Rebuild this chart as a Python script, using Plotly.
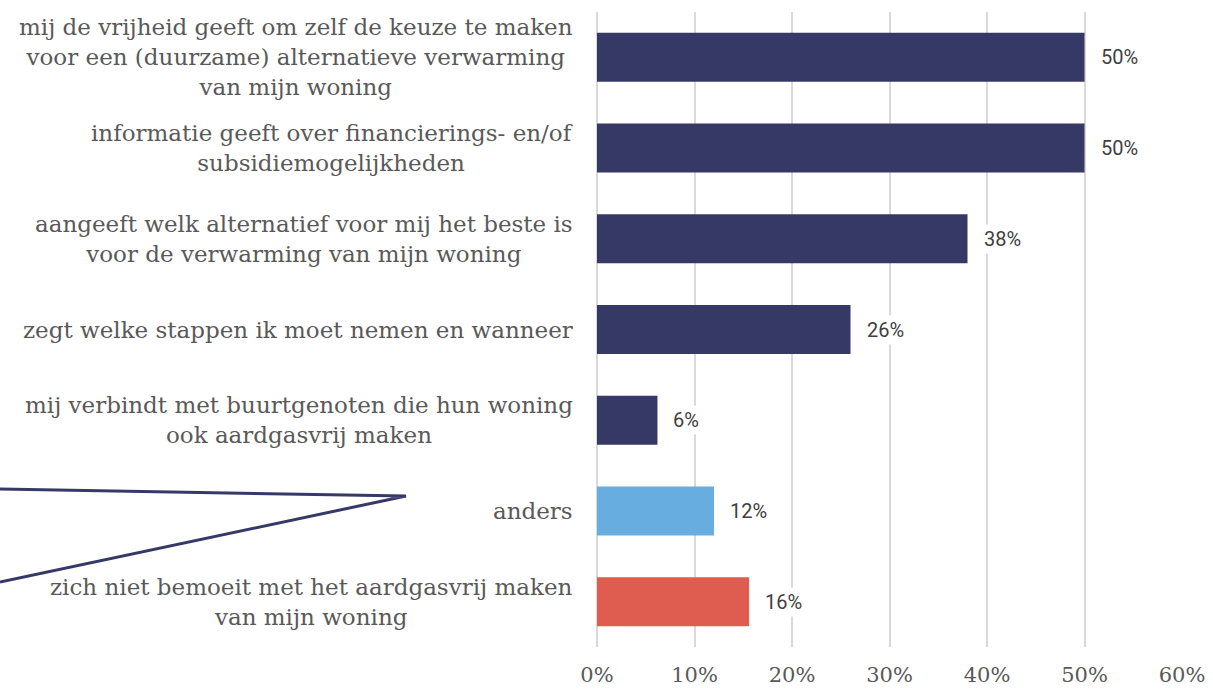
import plotly.graph_objects as go

categories = [
    "mij de vrijheid geeft om zelf de keuze te maken<br>voor een (duurzame) alternatieve verwarming<br>van mijn woning",
    "informatie geeft over financierings- en/of<br>subsidiemogelijkheden",
    "aangeeft welk alternatief voor mij het beste is<br>voor de verwarming van mijn woning",
    "zegt welke stappen ik moet nemen en wanneer",
    "mij verbindt met buurtgenoten die hun woning<br>ook aardgasvrij maken",
    "anders",
    "zich niet bemoeit met het aardgasvrij maken<br>van mijn woning",
]
values = [50, 50, 38, 26, 6.2, 12, 15.6]
value_labels = ["50%", "50%", "38%", "26%", "6%", "12%", "16%"]
bar_colors = ["#363966", "#363966", "#363966", "#363966", "#363966", "#68ADE0", "#DF5C50"]
tick_vals = [0, 10, 20, 30, 40, 50, 60]
tick_text = ["0%", "10%", "20%", "30%", "40%", "50%", "60%"]

W, H = 1213, 691
ML, MR, MT, MB = 597, 31, 12, 44
PW, PH = W - ML - MR, H - MT - MB

def px_to_paper(px, py):
    return (px - ML) / PW, (H - MB - py) / PH

fig = go.Figure()
fig.add_trace(go.Bar(
    x=values, y=categories, orientation="h",
    marker=dict(color=bar_colors, line=dict(width=0)),
    hoverinfo="skip",
))

annotations = []
for c in categories:
    annotations.append(dict(
        x=0, xref="paper", y=c, yref="y", text=c, showarrow=False,
        xanchor="right", yanchor="middle", xshift=-22, align="center",
        font=dict(family="DejaVu Serif", size=23, color="#595959"),
    ))
for c, v, t in zip(categories, values, value_labels):
    annotations.append(dict(
        x=v, xref="x", y=c, yref="y", text=t, showarrow=False,
        xanchor="left", yanchor="middle", xshift=13,
        bgcolor="white", borderpad=2,
        font=dict(family="Roboto", size=20, color="#404040"),
    ))

p0 = px_to_paper(0, 489)
p1 = px_to_paper(406, 496)
p2 = px_to_paper(0, 582)
path = f"M {p0[0]},{p0[1]} L {p1[0]},{p1[1]} L {p2[0]},{p2[1]}"

fig.update_layout(
    width=W, height=H,
    margin=dict(l=ML, r=MR, t=MT, b=MB, autoexpand=False),
    plot_bgcolor="white", paper_bgcolor="white",
    bargap=0.46,
    showlegend=False,
    annotations=annotations,
    shapes=[dict(type="path", path=path, xref="paper", yref="paper",
                 line=dict(color="#363966", width=3), layer="above")],
    xaxis=dict(
        range=[0, 60], tickvals=tick_vals, ticktext=tick_text,
        showgrid=True, gridcolor="#d9d9d9", gridwidth=2,
        zeroline=True, zerolinecolor="#d9d9d9", zerolinewidth=2,
        showline=False, ticks="", ticklabelstandoff=13, automargin=False,
        tickfont=dict(family="DejaVu Serif", size=21, color="#595959"),
        fixedrange=True,
    ),
    yaxis=dict(
        categoryorder="array", categoryarray=categories,
        autorange="reversed", showticklabels=False, showgrid=False,
        zeroline=False, showline=False, ticks="", fixedrange=True, automargin=False,
    ),
)

fig.write_html(
    "out.html",
    config={"displayModeBar": False},
    post_script="document.body.style.margin='0';document.body.style.overflow='hidden';",
)
